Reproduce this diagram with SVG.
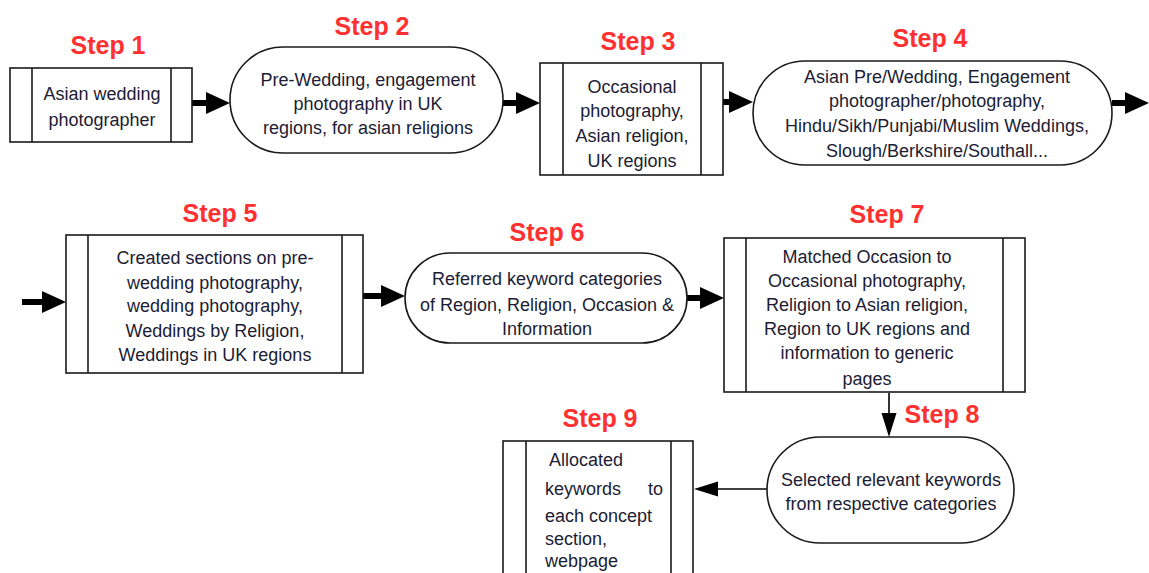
<svg xmlns="http://www.w3.org/2000/svg" width="1149" height="573" viewBox="0 0 1149 573">
<style>
.box{fill:#fff;stroke:#1a1a1a;stroke-width:1.6}
.bar{stroke:#1a1a1a;stroke-width:1.6}
.t{font-family:"Liberation Sans",Arial,sans-serif;font-size:18px;fill:#1c1c34;text-anchor:middle}
.tl{font-family:"Liberation Sans",Arial,sans-serif;font-size:18px;fill:#1c1c34}
.lbl{font-family:"Liberation Sans",Arial,sans-serif;font-size:25px;font-weight:bold;fill:#ff3030;text-anchor:middle}
.thick{stroke:#000;stroke-width:6;fill:none;marker-end:url(#hb)}
.thin{stroke:#000;stroke-width:1.6;fill:none;marker-end:url(#hs)}
</style>
<defs>
<marker id="hb" markerUnits="userSpaceOnUse" markerWidth="26" markerHeight="24" refX="0" refY="12" orient="auto" overflow="visible">
<path d="M0,1 L24,12 L0,23 Z" fill="#000"/>
</marker>
<marker id="hs" markerUnits="userSpaceOnUse" markerWidth="26" markerHeight="16" refX="0" refY="8" orient="auto" overflow="visible">
<path d="M0,0.5 L24,8 L0,15.5 Z" fill="#000"/>
</marker>
</defs>
<rect width="1149" height="573" fill="#fff"/>

<g id="connectors">
<line class="thick" x1="192" y1="103" x2="206" y2="103"/>
<line class="thick" x1="503" y1="103" x2="516" y2="103"/>
<line class="thick" x1="723" y1="102" x2="729" y2="102"/>
<line class="thick" x1="1112" y1="103" x2="1125" y2="103"/>
<line class="thick" x1="22" y1="302" x2="42" y2="302"/>
<line class="thick" x1="363" y1="296" x2="381" y2="296"/>
<line class="thick" x1="687" y1="298" x2="700" y2="298"/>
<line class="thin" x1="889" y1="393" x2="889" y2="413"/>
<line class="thin" x1="767" y1="489" x2="718" y2="489"/>
</g>

<g id="step1">
<text class="lbl" x="108" y="54">Step 1</text>
<rect class="box" x="10" y="68" width="182" height="74"/>
<line class="bar" x1="32" y1="68" x2="32" y2="142"/>
<line class="bar" x1="171" y1="68" x2="171" y2="142"/>
<text class="t" x="102" y="100">Asian wedding</text>
<text class="t" x="102" y="126">photographer</text>
</g>

<g id="step2">
<text class="lbl" x="372" y="35">Step 2</text>
<rect class="box" x="230" y="47" width="273" height="106" rx="53" ry="53"/>
<text class="t" x="368" y="86">Pre-Wedding, engagement</text>
<text class="t" x="368" y="110">photography in UK</text>
<text class="t" x="368" y="134">regions, for asian religions</text>
</g>

<g id="step3">
<text class="lbl" x="638" y="50">Step 3</text>
<rect class="box" x="540" y="63" width="183" height="112"/>
<line class="bar" x1="563" y1="63" x2="563" y2="175"/>
<line class="bar" x1="701" y1="63" x2="701" y2="175"/>
<text class="t" x="632" y="93">Occasional</text>
<text class="t" x="632" y="117">photography,</text>
<text class="t" x="632" y="142">Asian religion,</text>
<text class="t" x="632" y="167">UK regions</text>
</g>

<g id="step4">
<text class="lbl" x="930" y="47">Step 4</text>
<rect class="box" x="753" y="61" width="359" height="104" rx="52" ry="52"/>
<text class="t" x="937" y="83">Asian Pre/Wedding, Engagement</text>
<text class="t" x="937" y="107">photographer/photography,</text>
<text class="t" x="937" y="132">Hindu/Sikh/Punjabi/Muslim Weddings,</text>
<text class="t" x="937" y="157">Slough/Berkshire/Southall...</text>
</g>

<g id="step5">
<text class="lbl" x="220" y="222">Step 5</text>
<rect class="box" x="66" y="235" width="297" height="138"/>
<line class="bar" x1="88" y1="235" x2="88" y2="373"/>
<line class="bar" x1="342" y1="235" x2="342" y2="373"/>
<text class="t" x="215" y="264">Created sections on pre-</text>
<text class="t" x="215" y="289">wedding photography,</text>
<text class="t" x="215" y="312">wedding photography,</text>
<text class="t" x="215" y="337">Weddings by Religion,</text>
<text class="t" x="215" y="361">Weddings in UK regions</text>
</g>

<g id="step6">
<text class="lbl" x="547" y="241">Step 6</text>
<rect class="box" x="405" y="253" width="282" height="90" rx="45" ry="45"/>
<text class="t" x="547" y="285">Referred keyword categories</text>
<text class="t" x="547" y="311">of Region, Religion, Occasion &amp;</text>
<text class="t" x="547" y="335">Information</text>
</g>

<g id="step7">
<text class="lbl" x="887" y="223">Step 7</text>
<rect class="box" x="724" y="238" width="301" height="154"/>
<line class="bar" x1="746" y1="238" x2="746" y2="392"/>
<line class="bar" x1="1003" y1="238" x2="1003" y2="392"/>
<text class="t" x="867" y="263">Matched Occasion to</text>
<text class="t" x="867" y="287">Occasional photography,</text>
<text class="t" x="867" y="311">Religion to Asian religion,</text>
<text class="t" x="867" y="335">Region to UK regions and</text>
<text class="t" x="867" y="359">information to generic</text>
<text class="t" x="867" y="385">pages</text>
</g>

<g id="step8">
<text class="lbl" x="942" y="423">Step 8</text>
<rect class="box" x="767" y="437" width="247" height="106" rx="53" ry="53"/>
<text class="t" x="891" y="486">Selected relevant keywords</text>
<text class="t" x="891" y="510">from respective categories</text>
</g>

<g id="step9">
<text class="lbl" x="600" y="427">Step 9</text>
<rect class="box" x="503" y="441" width="190" height="160"/>
<line class="bar" x1="526" y1="441" x2="526" y2="601"/>
<line class="bar" x1="671" y1="441" x2="671" y2="601"/>
<text class="tl" x="549" y="466">Allocated</text>
<text class="tl" x="545" y="495">keywords<tspan x="663" text-anchor="end">to</tspan></text>
<text class="tl" x="545" y="522">each concept</text>
<text class="tl" x="545" y="545">section,</text>
<text class="tl" x="545" y="567">webpage</text>
</g>
</svg>
